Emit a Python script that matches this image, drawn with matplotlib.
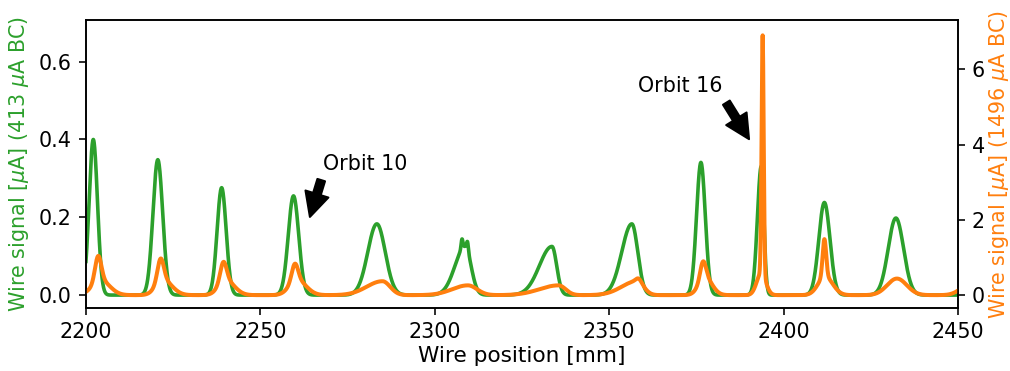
import numpy as np
import matplotlib
matplotlib.use('Agg')
import matplotlib.pyplot as plt

plt.rcParams['font.size'] = 10.3

# peak parameters (position [mm], height, left / right sigma [mm])
# 413 uA BC scan (left axis)
green_centers = [2202.1, 2220.6, 2238.9, 2259.5, 2283.4, 2308.7, 2307.8, 2309.4,
                 2333.6, 2356.5, 2376.3, 2393.6, 2411.7, 2432.2]
green_heights = [0.400, 0.348, 0.276, 0.255, 0.183, 0.125, 0.025, 0.022,
                 0.125, 0.183, 0.341, 0.331, 0.238, 0.198]
green_sig_left = [1.2, 1.4, 1.3, 1.5, 2.6, 2.9, 0.25, 0.25,
                  3.6, 2.9, 1.25, 1.1, 1.6, 2.2]
green_sig_right = [1.2, 1.4, 1.3, 1.5, 2.4, 1.7, 0.25, 0.25,
                   1.35, 1.7, 1.25, 0.75, 1.6, 2.2]

# 1496 uA BC scan (right axis)
orange_centers = [2203.5, 2204.3, 2221.4, 2222.0, 2239.4, 2240.0, 2259.9, 2260.5,
                  2285.0, 2309.5, 2335.5, 2358.4, 2358.0, 2376.9, 2377.5,
                  2394.0, 2393.6, 2411.7, 2411.9, 2432.5, 2453.0]
orange_heights = [0.68, 0.38, 0.58, 0.41, 0.50, 0.40, 0.45, 0.40,
                  0.37, 0.26, 0.26, 0.08, 0.37, 0.45, 0.47,
                  6.35, 0.58, 1.00, 0.49, 0.44, 0.25]
orange_sig_left = [0.9, 2.5, 0.9, 2.0, 0.9, 2.0, 0.9, 2.2,
                   4.5, 4.5, 5.5, 0.8, 4.4, 0.8, 1.8,
                   0.3, 1.3, 0.5, 2.0, 2.8, 2.5]
orange_sig_right = [0.9, 2.6, 0.9, 2.6, 0.9, 2.5, 0.9, 2.6,
                    2.2, 2.6, 2.0, 0.8, 1.9, 0.8, 2.0,
                    0.3, 1.3, 0.5, 2.2, 2.8, 2.5]

annot_text = ['Orbit 10', 'Orbit 16']
annot_tip = [(2264.0, 0.195), (2390.5, 0.395)]
annot_textpos = [(2268.0, 0.322), (2358.3, 0.521)]


def profile(x, centers, heights, sl, sr):
    y = np.zeros_like(x)
    for c, h, a, b in zip(centers, heights, sl, sr):
        s = np.where(x < c, a, b)
        y += h * np.exp(-0.5 * ((x - c) / s) ** 2)
    return y


x = np.arange(2200, 2450.001, 0.05)
y_green = profile(x, green_centers, green_heights, green_sig_left, green_sig_right)
y_orange = profile(x, orange_centers, orange_heights, orange_sig_left, orange_sig_right)

fig = plt.figure(figsize=(1010 / 144, 371 / 144), dpi=144)
ax = fig.add_axes([0.0851, 0.169, 0.8634, 0.777])
ax2 = ax.twinx()

ax.plot(x, y_green, color='tab:green', lw=1.8)
ax2.plot(x, y_orange, color='tab:orange', lw=2)

ax.set_xlim(2200, 2450)
ax.set_ylim(-0.034, 0.707)
ax2.set_ylim(-0.35, 7.31)
ax.set_yticks([0.0, 0.2, 0.4, 0.6])
ax2.set_yticks([0, 2, 4, 6])

ax.set_xlabel('Wire position [mm]', fontsize=10.8, labelpad=2)
ax.set_ylabel(r'Wire signal [$\mu$A] (413 $\mu$A BC)', color='tab:green')
ax2.set_ylabel(r'Wire signal [$\mu$A] (1496 $\mu$A BC)', color='tab:orange',
               labelpad=1)

for t, tip, tp in zip(annot_text, annot_tip, annot_textpos):
    ax.annotate(t, xy=tip, xytext=tp,
                arrowprops=dict(facecolor='black', shrink=0.05))

plt.savefig('out.png', dpi=144)
